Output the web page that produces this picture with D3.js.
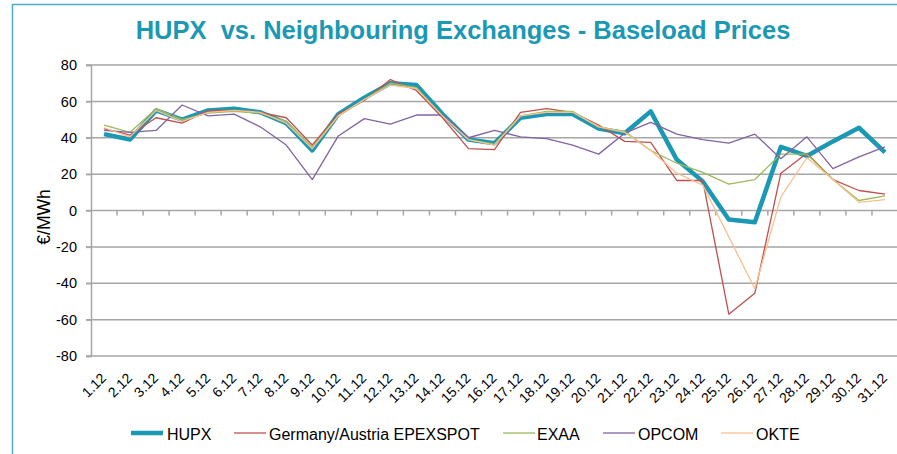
<!DOCTYPE html>
<html>
<head>
<meta charset="utf-8">
<script src="https://cdn.jsdelivr.net/npm/d3@7"></script>
<style>
  body { margin: 0; background: #fff; }
  svg { display: block; font-family: "Liberation Sans", Arial, sans-serif; }
</style>
</head>
<body>
<div id="chart"></div>
<script>
const days = ["1.12","2.12","3.12","4.12","5.12","6.12","7.12","8.12","9.12","10.12",
  "11.12","12.12","13.12","14.12","15.12","16.12","17.12","18.12","19.12","20.12",
  "21.12","22.12","23.12","24.12","25.12","26.12","27.12","28.12","29.12","30.12","31.12"];

const hupx = [42, 39, 55, 50, 55, 56, 54, 48, 33, 53, 62, 70, 69, 53, 39, 37, 51, 53, 53, 45,
  42.5, 54.5, 28, 16, -5, -6.5, 35, 30, 38, 45.5, 32];
const germany = [45, 41.5, 51, 48, 55, 55, 54, 51, 36, 53, 60.5, 72, 66, 51, 34, 33.5, 54, 56, 54, 47,
  38, 37.5, 16.5, 16.5, -57, -45.5, 20.5, 31.5, 17, 11, 9];
const exaa = [47, 43, 56, 50, 53.5, 54.5, 53.5, 49, 35, 52, 61, 70, 67.5, 52, 39, 36.5, 52, 54.5, 54.5, 46,
  43.5, 33, 26, 21, 14.5, 17, 31, 31, 17, 5.5, 8];
const opcom = [44, 43, 44, 58, 52, 53, 46, 36, 17, 41, 50.5, 47.5, 52.5, 52.5, 40, 44, 40.5, 39.5, 36, 31,
  42.5, 48.5, 42, 39, 37, 42, 28.5, 40.5, 23, 29.5, 35];
const okte = [45.5, 40.5, 55, 49, 54, 55, 54, 48, 34, 52, 61, 69, 67, 52, 39, 36, 52, 54, 54, 46,
  43, 33, 20.5, 14, -14.5, -43, 7.5, 29, 17, 4.5, 6];

const yTicks = [80, 60, 40, 20, 0, -20, -40, -60, -80];

const series = [
  {name: "HUPX", values: hupx, color: "#1b99b4", width: 4.5},
  {name: "Germany/Austria EPEXSPOT", values: germany, color: "#c0504d", width: 1.3},
  {name: "EXAA", values: exaa, color: "#9bbb59", width: 1.3},
  {name: "OPCOM", values: opcom, color: "#8064a2", width: 1.3},
  {name: "OKTE", values: okte, color: "#fac090", width: 1.3}
];

const width = 897;
const height = 454;
const plot = {left: 91, right: 898, top: 65, bottom: 356};

const svg = d3.select("#chart")
  .append("svg")
  .attr("width", width)
  .attr("height", height);

// outer frame (cropped on the right and bottom)
svg.append("rect")
  .attr("x", 12.5).attr("y", 4.5)
  .attr("width", 900).attr("height", 470)
  .attr("fill", "none")
  .attr("stroke", "#4bacc6")
  .attr("stroke-width", 1.5);

svg.append("text")
  .attr("x", 463).attr("y", 39)
  .attr("text-anchor", "middle")
  .attr("font-size", 25.5)
  .attr("font-weight", "bold")
  .attr("fill", "#1b99b4")
  .style("white-space", "pre")
  .text("HUPX  vs. Neighbouring Exchanges - Baseload Prices");

const x = d3.scaleBand()
  .domain(days)
  .range([plot.left, plot.right]);

const y = d3.scaleLinear()
  .domain([-80, 80])
  .range([plot.bottom, plot.top]);

// horizontal gridlines
svg.append("g")
  .selectAll("line")
  .data(yTicks)
  .enter()
  .append("line")
  .attr("x1", plot.left - 5)
  .attr("x2", width)
  .attr("y1", d => y(d))
  .attr("y2", d => y(d))
  .attr("stroke", "#a6a6a6")
  .attr("stroke-width", 1.5);

// y axis (plain hyphen for negatives, as in the original)
const yAxis = svg.append("g")
  .attr("transform", `translate(${plot.left},0)`)
  .call(d3.axisLeft(y).tickValues(yTicks).tickSize(5).tickPadding(9).tickFormat(d => String(d)));
yAxis.select(".domain").attr("stroke", "#a6a6a6").attr("stroke-width", 1.5);
yAxis.selectAll(".tick line").attr("stroke", "#a6a6a6").attr("stroke-width", 1.5);
yAxis.selectAll(".tick text")
  .attr("font-size", 14.5)
  .attr("font-family", "Liberation Sans, Arial, sans-serif")
  .attr("fill", "#000");

svg.append("text")
  .attr("transform", "translate(50,217) rotate(-90)")
  .attr("text-anchor", "middle")
  .attr("font-size", 17.5)
  .text("€/MWh");

// category axis at zero with tick marks on the band edges
const xAxis = svg.append("g")
  .attr("transform", `translate(0,${y(0)})`);
xAxis.selectAll("line")
  .data(days)
  .enter()
  .append("line")
  .attr("x1", d => x(d) + x.bandwidth())
  .attr("x2", d => x(d) + x.bandwidth())
  .attr("y1", 0)
  .attr("y2", 5)
  .attr("stroke", "#a6a6a6")
  .attr("stroke-width", 1.5);

// category labels below the plot
svg.append("g")
  .selectAll("text")
  .data(days)
  .enter()
  .append("text")
  .attr("transform", d => `translate(${x(d) + x.bandwidth() / 2 + 3},${plot.bottom + 23}) rotate(-45)`)
  .attr("text-anchor", "end")
  .attr("font-size", 14)
  .text(d => d);

const line = d3.line()
  .x((d, i) => x(days[i]) + x.bandwidth() / 2)
  .y(d => y(d));

svg.append("g")
  .selectAll("path")
  .data(series)
  .enter()
  .append("path")
  .attr("d", d => line(d.values))
  .attr("fill", "none")
  .attr("stroke", d => d.color)
  .attr("stroke-width", d => d.width)
  .attr("stroke-linejoin", "round");

// legend
const legendPos = [
  {lx: 131, tx: 167},
  {lx: 234, tx: 269},
  {lx: 503, tx: 537},
  {lx: 603, tx: 638},
  {lx: 721, tx: 756}
];
const legend = svg.append("g")
  .selectAll("g")
  .data(series)
  .enter()
  .append("g");
legend.append("line")
  .attr("x1", (d, i) => legendPos[i].lx)
  .attr("x2", (d, i) => legendPos[i].lx + 32)
  .attr("y1", 433)
  .attr("y2", 433)
  .attr("stroke", d => d.color)
  .attr("stroke-width", d => d.width === 4.5 ? 4.5 : 1.3);
legend.append("text")
  .attr("x", (d, i) => legendPos[i].tx)
  .attr("y", 439.5)
  .attr("font-size", 16)
  .text(d => d.name);
</script>
</body>
</html>
